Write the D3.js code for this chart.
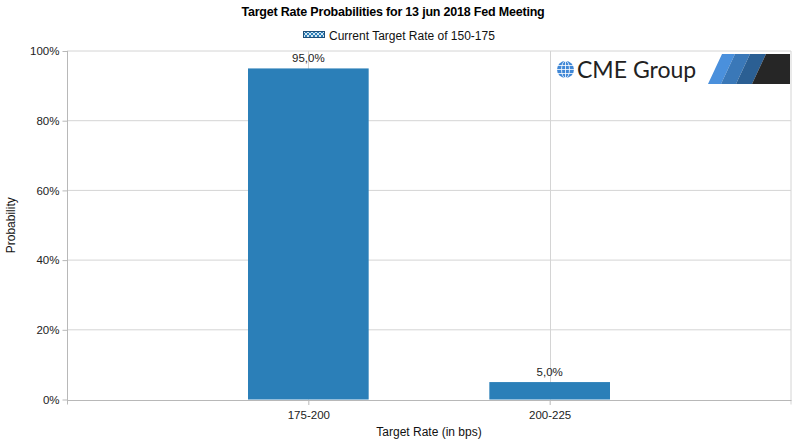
<!DOCTYPE html>
<html>
<head>
<meta charset="utf-8">
<script src="https://cdn.jsdelivr.net/npm/d3@7"></script>
<style>
  body { margin: 0; background: #fff; }
  svg text { font-family: "Liberation Sans", Arial, sans-serif; }
</style>
</head>
<body>
<div id="chart"></div>
<script>
// data
var categories = ["175-200", "200-225"];
var probabilities = [95.0, 5.0];
var yTicks = [0, 20, 40, 60, 80, 100];
var titleText = "Target Rate Probabilities for 13 jun 2018 Fed Meeting";
var legendText = "Current Target Rate of 150-175";

var width = 798, height = 445;
var margins = { top: 51, bottom: 45.5, left: 67, right: 7 };
var barColor = "#2b7fb8";
var gridColor = "#d4d4d4";
var axisColor = "#b8b8b8";

var svg = d3.select("#chart").append("svg")
  .attr("width", width)
  .attr("height", height);

var defs = svg.append("defs");
var pat = defs.append("pattern")
  .attr("id", "hatch")
  .attr("patternUnits", "userSpaceOnUse")
  .attr("width", 4).attr("height", 4);
pat.append("rect").attr("width", 4).attr("height", 4).attr("fill", barColor);
pat.append("path").attr("d", "M0,0 L4,4 M4,0 L0,4")
  .attr("stroke", "#fff").attr("stroke-width", 0.8);

// scales
var x = d3.scalePoint()
  .domain(categories)
  .range([margins.left, width - margins.right])
  .padding(1);
var y = d3.scaleLinear()
  .domain([0, 100])
  .range([height - margins.bottom, margins.top]);
var bw = x.step() * 0.5;

// gridlines
svg.append("g").selectAll("line.h")
  .data(yTicks.slice(1))
  .enter().append("line")
  .attr("x1", margins.left).attr("x2", width - margins.right)
  .attr("y1", d => y(d)).attr("y2", d => y(d))
  .attr("stroke", gridColor);
svg.append("g").selectAll("line.v")
  .data(categories)
  .enter().append("line")
  .attr("x1", d => Math.round(x(d)) + 0.5).attr("x2", d => Math.round(x(d)) + 0.5)
  .attr("y1", y(100)).attr("y2", y(0))
  .attr("stroke", gridColor);
// right border
svg.append("line")
  .attr("x1", width - margins.right).attr("x2", width - margins.right)
  .attr("y1", y(100)).attr("y2", y(0) + 5)
  .attr("stroke", gridColor);

// logo
var logo = svg.append("g");
logo.append("rect")
  .attr("x", 552).attr("y", 52).attr("width", 238).attr("height", 38)
  .attr("fill", "#fff");
var globe = logo.append("g").attr("transform", "translate(565.5,69.5)");
globe.append("circle").attr("r", 8.5).attr("fill", "#3f87d6");
[-4, 0, 4].forEach(function (o) {
  globe.append("line").attr("x1", -8.5).attr("x2", 8.5).attr("y1", o).attr("y2", o)
    .attr("stroke", "#fff").attr("stroke-width", 0.8);
});
globe.append("ellipse").attr("rx", 4).attr("ry", 8.5).attr("fill", "none")
  .attr("stroke", "#fff").attr("stroke-width", 0.8);
globe.append("line").attr("x1", 0).attr("x2", 0).attr("y1", -8.5).attr("y2", 8.5)
  .attr("stroke", "#fff").attr("stroke-width", 0.8);
logo.append("text")
  .attr("x", 577).attr("y", 77.5)
  .attr("font-size", 23)
  .attr("fill", "#222")
  .style("font-family", "Lato, 'Open Sans', sans-serif")
  .text("CME Group");
var stripes = [
  { x0: 708, x1: 721, c: "#4a90dc" },
  { x0: 721, x1: 736, c: "#3a78b8" },
  { x0: 736, x1: 752, c: "#2b5f93" },
  { x0: 752, x1: 790, c: "#262626" }
];
logo.selectAll("path.stripe")
  .data(stripes)
  .enter().append("path")
  .attr("d", function (s, i) {
    var right = i === stripes.length - 1 ? 790 : s.x1 + 14;
    var rightB = i === stripes.length - 1 ? 790 : s.x1;
    return "M" + s.x0 + ",84 L" + (s.x0 + 14) + ",54 L" + right + ",54 L" + rightB + ",84 Z";
  })
  .attr("fill", d => d.c);

// bars
svg.selectAll("rect.bar")
  .data(probabilities)
  .enter().append("rect")
  .attr("class", "bar")
  .attr("x", (d, i) => x(categories[i]) - bw / 2)
  .attr("y", d => y(d))
  .attr("width", bw)
  .attr("height", d => y(0) - y(d))
  .attr("fill", barColor);

// value labels
svg.selectAll("text.val")
  .data(probabilities)
  .enter().append("text")
  .attr("x", (d, i) => x(categories[i]))
  .attr("y", d => y(d) - 6)
  .attr("text-anchor", "middle")
  .attr("font-size", 11.5)
  .attr("fill", "#222")
  .text(d => d.toFixed(1).replace(".", ",") + "%");

// y axis
var yAxis = svg.append("g")
  .attr("transform", "translate(" + (margins.left + 0.5) + ",0)")
  .call(d3.axisLeft(y).tickValues(yTicks).tickFormat(d => d + "%").tickSize(5).tickSizeOuter(0));
yAxis.select(".domain").remove();
yAxis.append("line").attr("x1", 0).attr("x2", 0)
  .attr("y1", y(100)).attr("y2", y(0) + 5).attr("stroke", axisColor);
yAxis.selectAll(".tick line").attr("stroke", axisColor);
yAxis.selectAll(".tick text")
  .attr("font-size", 11.5).attr("fill", "#222")
  .style("font-family", "'Liberation Sans', Arial, sans-serif");

// x axis
var xAxis = svg.append("g")
  .attr("transform", "translate(0," + (y(0) + 0.5) + ")")
  .call(d3.axisBottom(x).tickSize(5).tickSizeOuter(0));
xAxis.select(".domain").attr("stroke", axisColor);
xAxis.selectAll(".tick line").attr("stroke", axisColor);
xAxis.selectAll(".tick text")
  .attr("font-size", 11.5).attr("fill", "#222").attr("dy", "0.95em")
  .style("font-family", "'Liberation Sans', Arial, sans-serif");

// axis titles
svg.append("text")
  .attr("x", (margins.left + width - margins.right) / 2)
  .attr("y", 436)
  .attr("text-anchor", "middle")
  .attr("font-size", 12)
  .attr("fill", "#111")
  .text("Target Rate (in bps)");
svg.append("text")
  .attr("transform", "translate(15," + ((y(0) + y(100)) / 2) + ") rotate(-90)")
  .attr("text-anchor", "middle")
  .attr("font-size", 12)
  .attr("fill", "#111")
  .text("Probability");

// title
svg.append("text")
  .attr("x", 393).attr("y", 16)
  .attr("text-anchor", "middle")
  .attr("font-size", 12.5)
  .attr("font-weight", "bold")
  .attr("letter-spacing", -0.2)
  .attr("fill", "#000")
  .text(titleText);

// legend
svg.append("rect")
  .attr("x", 303.5).attr("y", 31.5).attr("width", 21).attr("height", 6)
  .attr("fill", "url(#hatch)")
  .attr("stroke", "#1f4f7a");
svg.append("text")
  .attr("x", 329).attr("y", 40)
  .attr("font-size", 12)
  .attr("fill", "#111")
  .text(legendText);
</script>
</body>
</html>
